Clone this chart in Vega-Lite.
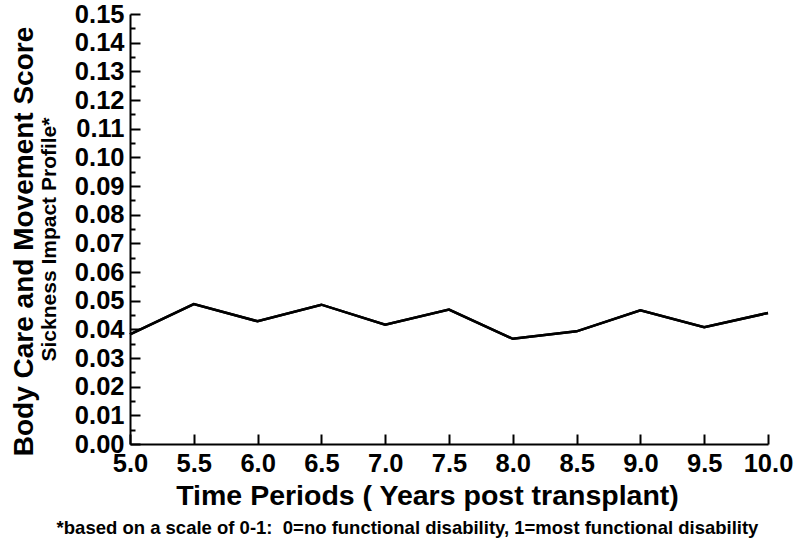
{
  "$schema": "https://vega.github.io/schema/vega-lite/v6.json",
  "width": 638,
  "height": 430,
  "autosize": {"type": "none"},
  "padding": {"left": 130, "top": 14, "right": 32, "bottom": 96},
  "background": "white",
  "config": {"view": {"stroke": null}, "font": "Liberation Sans"},
  "data": {"values": [
    {"t": 5.0, "score": 0.0382},
    {"t": 5.5, "score": 0.0488},
    {"t": 6.0, "score": 0.0428},
    {"t": 6.5, "score": 0.0486},
    {"t": 7.0, "score": 0.0416},
    {"t": 7.5, "score": 0.0469},
    {"t": 8.0, "score": 0.0367},
    {"t": 8.5, "score": 0.0393},
    {"t": 9.0, "score": 0.0466},
    {"t": 9.5, "score": 0.0407},
    {"t": 10.0, "score": 0.0457}
  ]},
  "layer": [
    {
      "mark": {"type": "line", "color": "black", "strokeWidth": 2.5},
      "encoding": {
        "x": {"field": "t", "type": "quantitative",
          "scale": {"domain": [5, 10], "nice": false, "zero": false},
          "axis": {"orient": "bottom", "values": [5, 5.5, 6, 6.5, 7, 7.5, 8, 8.5, 9, 9.5, 10], "format": ".1f",
            "grid": false, "domainColor": "black", "domainWidth": 2, "tickColor": "black", "tickWidth": 2, "tickSize": -10,
            "labelFontSize": 25.5, "labelFontWeight": "bold", "labelColor": "black", "labelPadding": 17, "labelFlush": false, "labelOverlap": false,
            "title": "Time Periods ( Years post transplant)", "titleFontSize": 28.5, "titleFontWeight": "bold", "titleColor": "black",
            "titleX": 297, "titleY": 60, "titleBaseline": "alphabetic", "titleAlign": "center"}},
        "y": {"field": "score", "type": "quantitative",
          "scale": {"domain": [0, 0.15], "nice": false, "zero": true},
          "axis": {"orient": "left", "values": [0, 0.01, 0.02, 0.03, 0.04, 0.05, 0.06, 0.07, 0.08, 0.09, 0.1, 0.11, 0.12, 0.13, 0.14, 0.15], "format": ".2f",
            "grid": false, "domainColor": "black", "domainWidth": 2, "tickColor": "black", "tickWidth": 2, "tickSize": -10,
            "labelFontSize": 25.5, "labelFontWeight": "bold", "labelColor": "black", "labelPadding": 16, "labelFlush": false, "labelOverlap": false,
            "title": "Body Care and Movement Score", "titleFontSize": 28, "titleFontWeight": "bold", "titleColor": "black",
            "titleX": -98, "titleY": 227, "titleAngle": -90, "titleBaseline": "alphabetic", "titleAlign": "center"}}
      }
    },
    {
      "mark": {"type": "line", "color": "black", "strokeWidth": 2.5},
      "encoding": {
        "x": {"field": "t", "type": "quantitative",
          "scale": {"domain": [5, 10], "nice": false, "zero": false},
          "axis": {"orient": "bottom", "labels": false, "ticks": false, "domain": false, "grid": false,
            "title": "*based on a scale of 0-1: \u00a00=no functional disability, 1=most functional disability",
            "titleFontSize": 18.5, "titleFontWeight": "bold", "titleColor": "black",
            "titleX": 277, "titleY": 89, "titleBaseline": "alphabetic", "titleAlign": "center"}},
        "y": {"field": "score", "type": "quantitative",
          "scale": {"domain": [0, 0.15], "nice": false, "zero": true},
          "axis": {"orient": "left", "values": [0.005, 0.015, 0.025, 0.035, 0.045, 0.055, 0.065, 0.075, 0.085, 0.095, 0.105, 0.115, 0.125, 0.135, 0.145],
            "labels": false, "domain": false, "grid": false, "tickColor": "black", "tickWidth": 2, "tickSize": -5,
            "title": "Sickness Impact Profile*", "titleFontSize": 21, "titleFontWeight": "bold", "titleColor": "black",
            "titleX": -75, "titleY": 225, "titleAngle": -90, "titleBaseline": "alphabetic", "titleAlign": "center"}}
      }
    }
  ],
  "resolve": {"axis": {"x": "independent", "y": "independent"}}
}
